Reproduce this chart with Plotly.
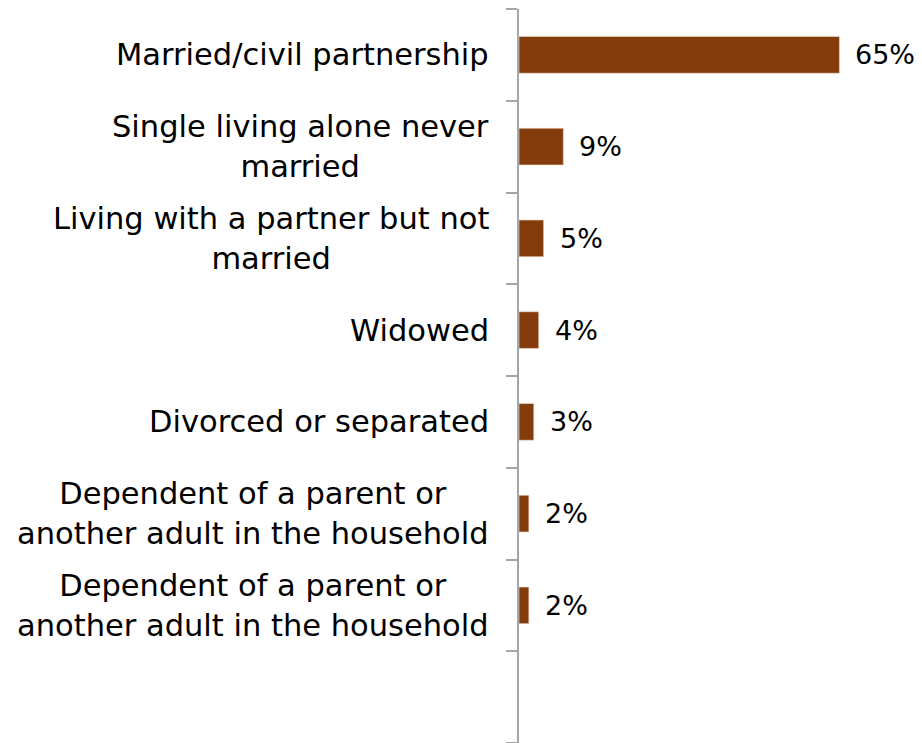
import plotly.graph_objects as go

# Household status shares (percent), top to bottom
categories = [
    "Married/civil partnership",
    "Single living alone never<br>married",
    "Living with a partner but not<br>married",
    "Widowed",
    "Divorced or separated",
    "Dependent of a parent or<br>another adult in the household",
    "Dependent of a parent or<br>another adult in the household",
]
values = [65, 9, 5, 4, 3, 2, 2]
value_labels = ["65%", "9%", "5%", "4%", "3%", "2%", "2%"]

BAR_COLOR = "#843C0C"
FONT = "DejaVu Sans"
positions = list(range(len(categories)))
n_slots = len(categories) + 1  # one empty slot at the bottom

fig = go.Figure(
    go.Bar(
        x=values,
        y=positions,
        orientation="h",
        width=0.4,
        marker=dict(color=BAR_COLOR, line=dict(color="#F2DCCF", width=0.6)),
        hoverinfo="skip",
    )
)

annotations = []
for pos, cat, val, lab in zip(positions, categories, values, value_labels):
    # category label, left of the axis, lines centred on each other
    annotations.append(dict(
        xref="paper", yref="y", x=0, y=pos, text=cat,
        xanchor="right", yanchor="middle", align="center",
        xshift=-28, showarrow=False,
        font=dict(family=FONT, size=30.5, color="#000000"),
    ))
    # value label at the bar end
    annotations.append(dict(
        xref="x", yref="y", x=val, y=pos, text=lab,
        xanchor="left", yanchor="middle", xshift=14, showarrow=False,
        font=dict(family=FONT, size=27, color="#000000"),
    ))

fig.update_layout(
    width=922, height=743,
    margin=dict(l=519, r=0, t=9, b=0),
    paper_bgcolor="white", plot_bgcolor="white",
    showlegend=False,
    annotations=annotations,
    xaxis=dict(
        range=[0, 403 / 4.93], showgrid=False, zeroline=False,
        showticklabels=False, showline=False, fixedrange=True,
    ),
    yaxis=dict(
        range=[n_slots - 0.5, -0.5], showgrid=False, zeroline=False,
        showline=True, linecolor="#A6A6A6", linewidth=1.5,
        tickvals=positions, ticktext=[""] * len(positions),
        ticks="", showticklabels=False,
        minor=dict(
            tickvals=[i - 0.5 for i in range(n_slots + 1)],
            ticks="outside", ticklen=11, tickcolor="#A6A6A6", tickwidth=1.5,
        ),
        fixedrange=True,
    ),
)

fig.write_html("out.html")
